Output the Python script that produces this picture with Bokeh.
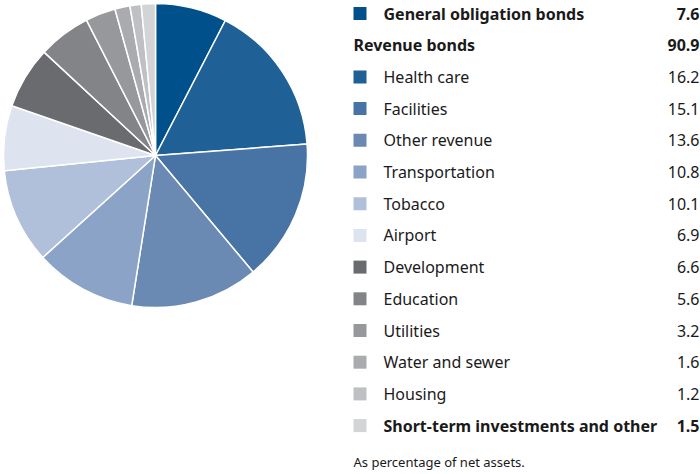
import math
from bokeh.plotting import figure
from bokeh.models import Range1d, ColumnDataSource
from bokeh.core.properties import value
from bokeh.embed import file_html
from bokeh.resources import INLINE

categories = ["General obligation bonds", "Health care", "Facilities", "Other revenue",
              "Transportation", "Tobacco", "Airport", "Development", "Education",
              "Utilities", "Water and sewer", "Housing", "Short-term investments and other"]
values = [7.6, 16.2, 15.1, 13.6, 10.8, 10.1, 6.9, 6.6, 5.6, 3.2, 1.6, 1.2, 1.5]
colors = ["#00518b", "#1f6197", "#4873a5", "#6a8ab3", "#8aa3c7", "#b0c0da", "#dde4ef",
          "#6a6b6f", "#838488", "#97989c", "#aaabae", "#bfc0c3", "#d3d4d6"]
bold = [True, False, False, False, False, False, False, False, False, False, False, False, True]
header_label = "Revenue bonds"
header_value = 90.9
footnote = "As percentage of net assets."

W, H = 700, 474
FONT = "Noto Sans"

p = figure(width=W, height=H, output_backend="svg", toolbar_location=None,
           x_range=Range1d(0, W), y_range=Range1d(0, H), min_border=0)
p.axis.visible = False
p.grid.visible = False
p.outline_line_color = None
p.background_fill_color = "white"

# pie
cx, cy, r = 155, H - 155, 152
total = sum(values)
starts, ends = [], []
cum = 0.0
for v in values:
    starts.append(math.pi / 2 - 2 * math.pi * cum / total)
    cum += v
    ends.append(math.pi / 2 - 2 * math.pi * cum / total)
src = ColumnDataSource(dict(start=starts, end=ends, color=colors))
p.wedge(x=cx, y=cy, radius=r, start_angle="start", end_angle="end", direction="clock",
        fill_color="color", line_color="white", line_width=1.5, source=src)

# legend rows
row0, step = 13, 31.7
sq_x, txt_x, val_x = 353, 383, 699
rows = []  # (label, value, color or None, bold, indent)
rows.append((categories[0], values[0], colors[0], bold[0]))
rows.append((header_label, header_value, None, True))
for i in range(1, len(categories)):
    rows.append((categories[i], values[i], colors[i], bold[i]))

for k, (lab, val, col, b) in enumerate(rows):
    y = H - (row0 + k * step)
    style = "bold" if b else "normal"
    if col is not None:
        p.rect(x=sq_x + 6.5, y=y, width=13, height=13, fill_color=col, line_color=None)
        tx = txt_x
    else:
        tx = sq_x
    p.text(x=[tx], y=[y], text=[lab], text_font=value(FONT), text_font_size="16px",
           text_font_style=style, text_baseline="middle", text_align="left", text_color="#1a1a1a")
    p.text(x=[val_x], y=[y], text=[f"{val:.1f}"], text_font=value(FONT), text_font_size="16px",
           text_font_style=style, text_baseline="middle", text_align="right", text_color="#1a1a1a")

p.text(x=[sq_x], y=[H - 461], text=[footnote], text_font=value(FONT), text_font_size="13px",
       text_baseline="middle", text_align="left", text_color="#1a1a1a")

open("out.html", "w").write(file_html(p, INLINE))
